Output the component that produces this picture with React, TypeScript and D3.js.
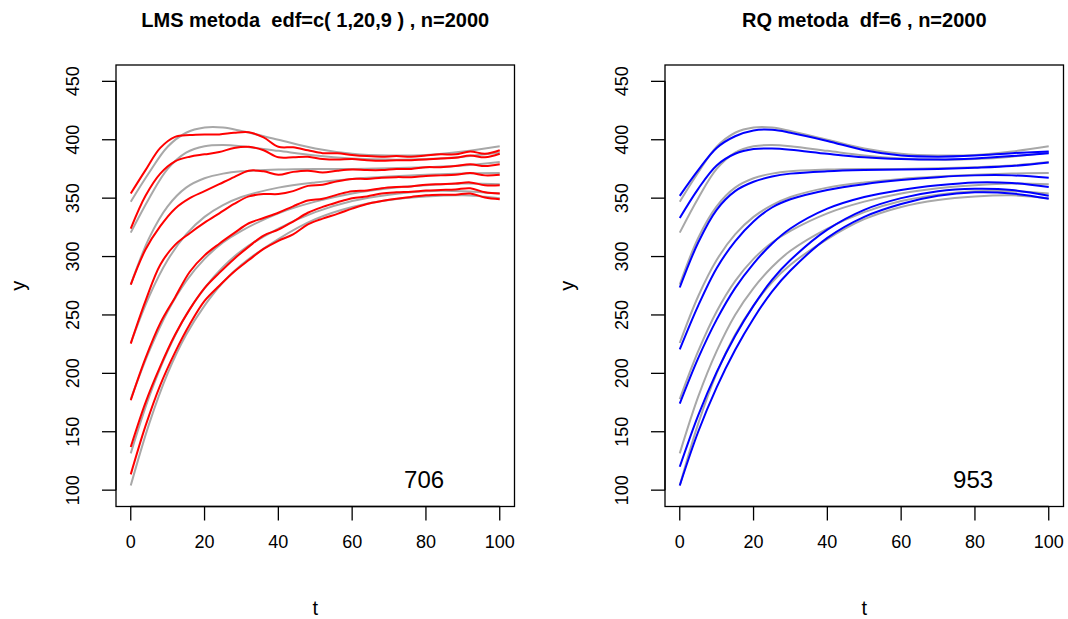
import React from 'react';
import * as d3 from 'd3';

// x grid for the smooth curves (true quantiles, RQ estimates)
const T_SMOOTH = [0, 5, 10, 15, 20, 25, 30, 40, 50, 60, 70, 80, 90, 100];
// x grid for the wiggly LMS estimates
const T_LMS = [0, 4, 8, 12, 16, 20, 24, 28, 32, 36, 40, 44, 48, 52, 56, 60, 64, 68, 72, 76, 80, 84, 88, 92, 96, 100];

// true quantile curves (gray), top to bottom
const G1 = [347, 372, 394, 406, 410.5, 410.5, 407.5, 400, 392.5, 388, 386.5, 387, 390, 394.5];
const G2 = [320.5, 350, 375, 389, 394.5, 395.5, 394.5, 390.5, 386.5, 384, 383, 383.5, 385.5, 389];
const G3 = [276, 316, 343, 359, 367, 371, 373, 374.5, 375, 375, 375.5, 376.5, 378, 381];
const G4 = [226, 266, 297, 319, 334, 344, 351, 359, 363.5, 366.5, 368.5, 370, 371, 371.5];
const G5 = [178, 219, 253, 279, 298, 312, 322, 337, 347, 354, 358.5, 361, 362.5, 362];
const G6 = [131.5, 180, 219, 250, 273, 291, 305, 324, 338, 347.5, 353, 356, 356, 354];
const G7 = [104, 157, 200, 233, 258, 278, 293, 315, 332, 342.5, 348.5, 351.5, 352.5, 350];

// LMS estimates (red)
const R1 = [354, 374, 393, 402.5, 404, 404.5, 404.5, 406, 406.5, 402, 394, 393.5, 391, 388.5, 388.5, 387, 386, 385.5, 386, 385.5, 386.5, 387.5, 387.5, 390, 388, 391];
const R2 = [324, 352, 371, 381.5, 385.5, 387.5, 389.5, 393, 394, 391, 385, 385, 385.5, 383.5, 383, 383.5, 382.5, 382, 382.5, 382.5, 383, 384, 384.5, 386.5, 385, 388];
const R3 = [276, 306, 326, 341, 350, 356, 362, 368, 373.5, 373, 370, 372.5, 373.5, 372, 373.5, 374.5, 374, 374, 375, 375, 376.5, 376.5, 377.5, 379, 377.5, 379];
const R4 = [225.5, 262, 293, 310, 320, 329, 337, 345, 351.5, 353.5, 353.5, 356, 360.5, 361.5, 364.5, 366.5, 366.5, 367.5, 368, 368, 369, 369.5, 370, 371.5, 369.5, 370];
const R5 = [177, 213, 243, 265, 287, 301, 311, 320, 328.5, 333, 337.5, 343, 348, 349.5, 353, 356, 356.5, 358.5, 359.5, 360, 361.5, 362, 362.5, 363.5, 361, 361];
const R6 = [137, 175, 206, 233, 255, 273, 286, 298, 308.5, 318, 323, 330, 337.5, 342.5, 346.5, 350, 351.5, 354, 355, 355.5, 356.5, 357, 357.5, 358.5, 355, 354];
const R7 = [113.5, 155, 190, 218, 242, 262, 275, 287, 297, 306.5, 313.5, 319, 327.5, 332.5, 336.5, 341, 345, 347.5, 349.5, 351, 352.5, 353, 353, 354, 350.5, 349];

// RQ estimates (blue)
const B1 = [352, 374, 393, 403, 408, 408.5, 406, 399, 391, 386.5, 385.5, 386.5, 388.5, 390];
const B2 = [333, 358, 378, 388, 392, 392.5, 391.5, 388, 385, 383.5, 383, 384, 386, 388.5];
const B3 = [273.5, 312, 340, 356, 364, 368.5, 371, 373, 374, 374.5, 375, 376, 377.5, 380.5];
const B4 = [220.5, 258, 290, 313, 330, 342, 349, 357, 362, 365.5, 368, 369.5, 369.5, 367.5];
const B5 = [174, 213, 246, 273, 294, 311, 324, 341, 351, 357, 361, 363.5, 363, 359.5];
const B6 = [120, 164, 201, 232, 258, 280, 297, 323, 340, 350, 356, 358, 357, 352];
const B7 = [104, 150, 188, 220, 247, 270, 288, 316, 334, 345, 352, 355, 354, 349.5];

const TRUE_CURVES = [G1, G2, G3, G4, G5, G6, G7];
const LMS_CURVES = [R1, R2, R3, R4, R5, R6, R7];
const RQ_CURVES = [B1, B2, B3, B4, B5, B6, B7];

const X_TICKS = [0, 20, 40, 60, 80, 100];
const Y_TICKS = [100, 150, 200, 250, 300, 350, 400, 450];

const TITLE_LMS = 'LMS metoda  edf=c( 1,20,9 ) , n=2000';
const TITLE_RQ = 'RQ metoda  df=6 , n=2000';
const COUNT_LMS = '706';
const COUNT_RQ = '953';

const FONT = '"Liberation Sans", Arial, Helvetica, sans-serif';

type PanelProps = {
  left: number;
  title: string;
  tEst: number[];
  est: number[][];
  color: string;
  count: string;
};

function Panel({ left, title, tEst, est, color, count }: PanelProps) {
  const boxW = 398.5;
  const boxTop = 65;
  const boxBottom = 506.5;
  const x = d3.scaleLinear().domain([-4, 104]).range([left, left + boxW]);
  const y = d3.scaleLinear().domain([86, 464]).range([boxBottom, boxTop]);

  const mkLine = (ts: number[]) =>
    d3
      .line<number>()
      .x((_, i) => x(ts[i]))
      .y((d) => y(d))
      .curve(d3.curveCatmullRom.alpha(0.5));

  const grayLine = mkLine(T_SMOOTH);
  const estLine = mkLine(tEst);
  const cx = left + boxW / 2;
  const tick = 14;

  return (
    <g>
      <text
        x={cx}
        y={27}
        textAnchor="middle"
        fontFamily={FONT}
        fontWeight="bold"
        fontSize={20}
        style={{ whiteSpace: 'pre' }}
      >
        {title}
      </text>
      {TRUE_CURVES.map((c, i) => (
        <path key={'g' + i} d={grayLine(c) || ''} fill="none" stroke="#a8a8a8" strokeWidth={2} />
      ))}
      {est.map((c, i) => (
        <path key={'e' + i} d={estLine(c) || ''} fill="none" stroke={color} strokeWidth={2} />
      ))}
      <rect
        x={left}
        y={boxTop}
        width={boxW}
        height={boxBottom - boxTop}
        fill="none"
        stroke="#000"
        strokeWidth={1.3}
      />
      {/* x axis */}
      <line x1={x(0)} x2={x(100)} y1={boxBottom} y2={boxBottom} stroke="#000" strokeWidth={1.3} />
      {X_TICKS.map((t) => (
        <g key={'xt' + t}>
          <line x1={x(t)} x2={x(t)} y1={boxBottom} y2={boxBottom + tick} stroke="#000" strokeWidth={1.3} />
          <text x={x(t)} y={boxBottom + 41} textAnchor="middle" fontFamily={FONT} fontSize={18}>
            {t}
          </text>
        </g>
      ))}
      {/* y axis */}
      <line x1={left} x2={left} y1={y(100)} y2={y(450)} stroke="#000" strokeWidth={1.3} />
      {Y_TICKS.map((v) => (
        <g key={'yt' + v}>
          <line x1={left - tick} x2={left} y1={y(v)} y2={y(v)} stroke="#000" strokeWidth={1.3} />
          <text
            transform={`translate(${left - 37},${y(v)}) rotate(-90)`}
            textAnchor="middle"
            fontFamily={FONT}
            fontSize={18}
          >
            {v}
          </text>
        </g>
      ))}
      <text x={cx} y={615} textAnchor="middle" fontFamily={FONT} fontSize={20}>
        t
      </text>
      <text
        transform={`translate(${left - 91},${(boxTop + boxBottom) / 2}) rotate(-90)`}
        textAnchor="middle"
        fontFamily={FONT}
        fontSize={20}
      >
        y
      </text>
      <text x={x(79.5)} y={488} textAnchor="middle" fontFamily={FONT} fontSize={24}>
        {count}
      </text>
    </g>
  );
}

export default function App() {
  return (
    <svg
      width={1068}
      height={619}
      style={{ position: 'absolute', left: 0, top: 0, background: '#fff' }}
    >
      <rect x={0} y={0} width={1068} height={619} fill="#fff" />
      <Panel left={116} title={TITLE_LMS} tEst={T_LMS} est={LMS_CURVES} color="#ff0000" count={COUNT_LMS} />
      <Panel left={665} title={TITLE_RQ} tEst={T_SMOOTH} est={RQ_CURVES} color="#0000ff" count={COUNT_RQ} />
    </svg>
  );
}
